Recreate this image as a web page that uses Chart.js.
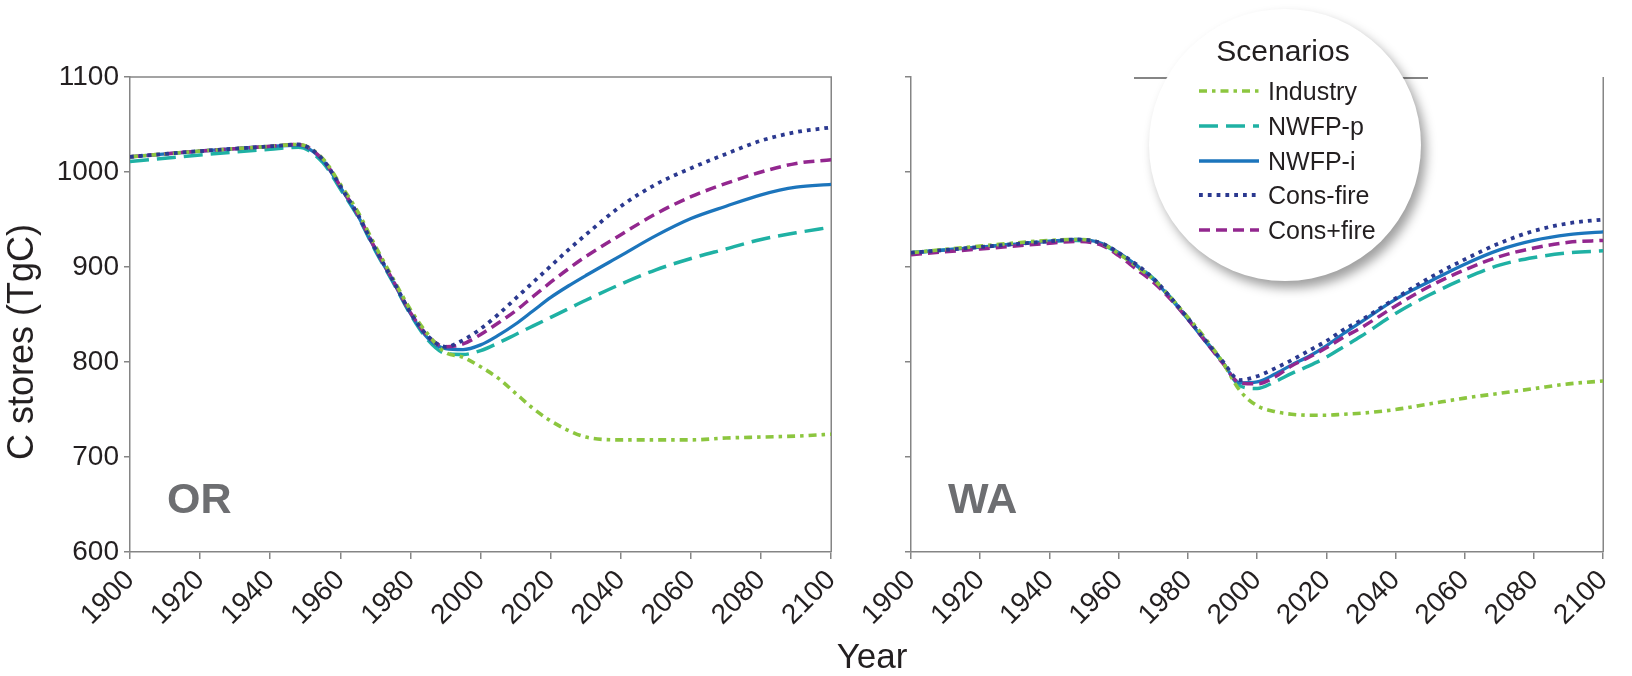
<!DOCTYPE html>
<html>
<head>
<meta charset="utf-8">
<script src="https://cdn.jsdelivr.net/npm/chart.js@4.4.1/dist/chart.umd.min.js"></script>
<style>
  html, body { margin: 0; padding: 0; background: #fff; }
  body { width: 1632px; height: 676px; position: relative; overflow: hidden;
         font-family: "Liberation Sans", Arial, sans-serif; color: #231f20; }
  canvas { position: absolute; top: 0; }
  #chartOR { left: 0; }
  #chartWA { left: 860px; }
  .ytitle { position: absolute; left: 21px; top: 342px; font-size: 36px; line-height: 36px;
            white-space: nowrap; transform: translate(-50%, -50%) rotate(-90deg); }
  .xtitle { position: absolute; left: 872px; top: 638px; font-size: 35px; line-height: 36px;
            transform: translateX(-50%); }
  #topline { position: absolute; left: 1134px; top: 77px; width: 294px; height: 1.5px; background: #858585; }
  #legend { position: absolute; left: 1149px; top: 9px; width: 272px; height: 272px;
            border-radius: 50%; background: #fff; box-shadow: 5px 7px 11px rgba(0,0,0,0.38); }
  #legend .title { position: absolute; left: -2px; top: 27px; width: 100%; text-align: center;
                   font-size: 30px; line-height: 30px; }
  #legend .row { position: absolute; left: 50px; height: 25px; width: 220px; }
  #legend .row svg { position: absolute; left: 0; top: 9px; }
  #legend .row span { position: absolute; left: 69px; top: 0; font-size: 25px; line-height: 25px; white-space: nowrap; }
</style>
</head>
<body>
<canvas id="chartOR" width="860" height="676"></canvas>
<canvas id="chartWA" width="772" height="676"></canvas>
<div class="ytitle">C stores (TgC)</div>
<div class="xtitle">Year</div>
<div id="topline"></div>
<div id="legend"><div class="title">Scenarios</div></div>
<script>
var years = [1900, 1920, 1940, 1948, 1955, 1960, 1965, 1970, 1975, 1980, 1985, 1990, 1995,
             2000, 2005, 2010, 2015, 2020, 2025, 2030, 2040, 2050, 2060, 2070, 2080, 2090, 2100];

// Oregon (TgC)
var orIndustry  = [1016, 1022, 1027, 1029, 1014, 987, 958, 922, 888, 855, 829, 810, 805,
                   795, 783, 767, 751, 738, 728, 721, 718, 718, 718, 720, 721, 722, 724];
var orNwfpP     = [1011, 1018, 1024, 1026, 1010, 982, 953, 917, 884, 850, 823, 809, 808,
                   812, 820, 829, 838, 847, 856, 865, 882, 897, 909, 919, 929, 936, 942];
var orNwfpI     = [1016, 1022, 1027, 1028, 1012, 984, 954, 918, 885, 851, 825, 814, 813,
                   818, 828, 840, 854, 868, 880, 891, 912, 933, 951, 964, 976, 984, 987];
var orConsMinus = [1016, 1022, 1027, 1029, 1013, 985, 955, 919, 886, 852, 827, 816, 823,
                   835, 850, 867, 884, 901, 918, 934, 964, 987, 1004, 1019, 1033, 1042, 1047];
var orConsPlus  = [1016, 1022, 1027, 1029, 1013, 985, 955, 919, 886, 852, 827, 816, 819,
                   829, 841, 854, 869, 884, 898, 911, 934, 956, 974, 988, 1000, 1009, 1013];

// Washington (TgC)
var waIndustry  = [915, 922, 928, 929, 925, 914, 901, 887, 868, 847, 825, 800, 770,
                   754, 748, 745, 744, 744, 745, 746, 750, 756, 762, 767, 772, 777, 780];
var waNwfpP     = [915, 921, 927, 928, 924, 914, 902, 888, 868, 846, 823, 800, 775,
                   772, 779, 788, 796, 805, 816, 827, 851, 871, 888, 902, 910, 915, 917];
var waNwfpI     = [915, 921, 927, 929, 925, 915, 902, 887, 867, 845, 822, 800, 778,
                   779, 787, 797, 806, 817, 830, 842, 866, 885, 903, 918, 928, 934, 937];
var waConsMinus = [915, 921, 927, 929, 925, 915, 903, 888, 868, 846, 823, 801, 781,
                   785, 793, 802, 812, 822, 834, 844, 867, 889, 908, 925, 938, 946, 950];
var waConsPlus  = [913, 919, 925, 927, 923, 912, 898, 884, 866, 845, 822, 799, 778,
                   777, 784, 796, 805, 815, 826, 836, 859, 880, 897, 911, 920, 926, 928];

var scenarioNames = ["Industry", "NWFP-p", "NWFP-i", "Cons-fire", "Cons+fire"];
var yTicks = [600, 700, 800, 900, 1000, 1100];
var xTicks = [1900, 1920, 1940, 1960, 1980, 2000, 2020, 2040, 2060, 2080, 2100];

// styles
var scenarioColors = ["#8cc63f", "#1fb1a4", "#1c75bc", "#2b3990", "#93278f"];
var scenarioDashes = [[8, 5, 3.5, 5], [19, 8], [], [3.8, 5], [11, 6]];
var scenarioWidths = [3.6, 3.5, 3.3, 3.8, 3.5];
var scenarioOrder = [1, 4, 3, 0, 2];
var axisColor = "#858585";
var fontFamily = '"Liberation Sans", Arial, sans-serif';

function buildDatasets(seriesList) {
  return seriesList.map(function (vals, i) {
    return {
      label: scenarioNames[i],
      data: years.map(function (yr, j) { return { x: yr, y: vals[j] }; }),
      borderColor: scenarioColors[i],
      borderDash: scenarioDashes[i],
      borderWidth: scenarioWidths[i],
      borderCapStyle: "butt",
      pointRadius: 0,
      fill: false,
      cubicInterpolationMode: "monotone",
      order: scenarioOrder[i],
    };
  });
}

// frame lines plus the state label
const panelFrame = {
  id: "panelFrame",
  beforeDatasetsDraw(chart, args, opts) {
    const ctx = chart.ctx;
    const a = chart.chartArea;
    ctx.save();
    ctx.strokeStyle = axisColor;
    ctx.lineWidth = 1.5;
    ctx.beginPath();
    if (opts.top) {
      ctx.moveTo(a.left, a.top);
      ctx.lineTo(a.right, a.top);
    } else {
      ctx.moveTo(a.right, a.top);
    }
    ctx.lineTo(a.right, a.bottom);
    ctx.stroke();
    ctx.font = "bold 43px " + fontFamily;
    ctx.fillStyle = "#6d6e71";
    ctx.textBaseline = "alphabetic";
    ctx.fillText(opts.text, a.left + 37, a.bottom - 39);
    ctx.restore();
  },
};

function makeChart(id, seriesList, label, topLine, yWidth, showYLabels, padRight) {
  const ctx = document.getElementById(id).getContext("2d");
  return new Chart(ctx, {
    type: "line",
    data: { datasets: buildDatasets(seriesList) },
    plugins: [panelFrame],
    options: {
      responsive: false,
      animation: false,
      layout: { padding: { top: 77, right: padRight, left: 0, bottom: 0 } },
      plugins: {
        legend: { display: false },
        tooltip: { enabled: false },
        panelFrame: { text: label, top: topLine },
      },
      scales: {
        x: {
          type: "linear",
          min: 1900,
          max: 2100,
          afterBuildTicks: function (scale) {
            scale.ticks = xTicks.map(function (v) { return { value: v }; });
          },
          ticks: {
            autoSkip: false,
            minRotation: 45,
            maxRotation: 45,
            padding: 5,
            color: "#231f20",
            font: { size: 28, family: fontFamily },
            callback: function (v) { return String(v); },
          },
          grid: { drawOnChartArea: false, drawTicks: true, tickLength: 7,
                  color: axisColor, tickColor: axisColor, lineWidth: 1.5 },
          border: { color: axisColor, width: 1.5 },
          afterFit: function (scale) { scale.height = 124; },
        },
        y: {
          min: 600,
          max: 1100,
          afterBuildTicks: function (scale) {
            scale.ticks = yTicks.map(function (v) { return { value: v }; });
          },
          ticks: {
            display: showYLabels,
            padding: 5,
            color: "#231f20",
            font: { size: 28, family: fontFamily },
            callback: function (v) { return String(v); },
          },
          grid: { drawOnChartArea: false, drawTicks: true, tickLength: 6,
                  color: axisColor, tickColor: axisColor, lineWidth: 1.5 },
          border: { color: axisColor, width: 1.5 },
          afterFit: function (scale) { scale.width = yWidth; },
        },
      },
    },
  });
}

var chartOR = makeChart("chartOR", [orIndustry, orNwfpP, orNwfpI, orConsMinus, orConsPlus], "OR", true, 130, true, 18);
var chartWA = makeChart("chartWA", [waIndustry, waNwfpP, waNwfpI, waConsMinus, waConsPlus], "WA", false, 51, false, 9);

// circular legend
var legend = document.getElementById("legend");
scenarioNames.forEach(function (name, i) {
  var row = document.createElement("div");
  row.className = "row";
  row.style.top = (70 + i * 34.75) + "px";
  var dash = scenarioDashes[i].length ? scenarioDashes[i].join(" ") : "none";
  row.innerHTML =
    '<svg width="60" height="6"><line x1="0" y1="3" x2="60" y2="3" stroke="' + scenarioColors[i] +
    '" stroke-width="' + scenarioWidths[i] + '" stroke-dasharray="' + dash + '"/></svg>' +
    "<span>" + name + "</span>";
  legend.appendChild(row);
});
</script>
</body>
</html>
